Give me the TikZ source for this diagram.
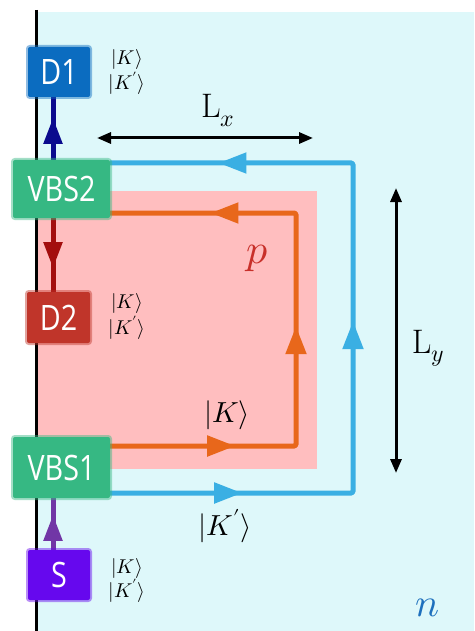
\documentclass[tikz,border=0pt]{standalone}
\usepackage{fontspec}
\usepackage{unicode-math}
\setmathfont{Latin Modern Math}
\newfontfamily\boxfont[FakeStretch=0.82]{Open Sans}
\usetikzlibrary{arrows.meta,decorations.markings}
\pgfdeclarelayer{bglayer}
\pgfdeclarelayer{linklayer}
\pgfsetlayers{bglayer,linklayer,main}
\definecolor{bgcyan}{HTML}{DEF8FA}
\definecolor{pinkbg}{HTML}{FFBEBF}
\definecolor{loopblue}{HTML}{3AAFE3}
\definecolor{looporange}{HTML}{E8671B}
\definecolor{dblue}{HTML}{0B6CC0}
\definecolor{vbsgreen}{HTML}{36B883}
\definecolor{dred}{HTML}{C0352A}
\definecolor{spurple}{HTML}{6608EE}
\definecolor{navyarr}{HTML}{0B0B8E}
\definecolor{redarr}{HTML}{A30E0E}
\definecolor{purparr}{HTML}{7136A6}
\definecolor{pred}{HTML}{C8302A}
\definecolor{nblue}{HTML}{1E70BD}
\tikzset{
  box/.style={rectangle, rounded corners=2pt, inner sep=0pt, text=white,
    fill=#1, preaction={draw=#1, line width=4pt, draw opacity=0.45},
    font=\boxfont\fontsize{35}{35}\selectfont},
  flow/.style={line width=5pt, line join=round, rounded corners=1.5pt},
  ftip/.tip={Triangle[length=28pt,width=20pt]},
  ctip/.tip={Triangle[length=26pt,width=18pt]},
  dtip/.tip={Triangle[length=14pt,width=11pt]},
  smallk/.style={anchor=base, inner sep=0pt, font=\fontsize{20}{24}\selectfont},
  bigk/.style={anchor=base, inner sep=0pt, font=\fontsize{29}{30}\selectfont},
  dimlab/.style={anchor=base, inner sep=0pt, font=\fontsize{34}{36}\selectfont},
  dimarrow/.style={line width=3pt, {dtip}-{dtip}}
}
\begin{document}
\begin{tikzpicture}[x=1pt,y=-1pt]
\useasboundingbox (0,0) rectangle (474,631);
\begin{pgfonlayer}{bglayer}
\fill[white] (0,0) rectangle (474,631);
\fill[bgcyan] (37,12) rectangle (474,631);
\fill[pinkbg] (37,191) rectangle (317,469);
\draw[line width=3pt] (36,10) -- (36,631);
\end{pgfonlayer}

% boxes
\node[box=dblue, minimum width=62pt, minimum height=50pt] (d1) at (59,72) {D1};
\node[box=vbsgreen, minimum width=97pt, minimum height=58pt] (vbs2) at (61.5,189) {VBS2};
\node[box=dred, minimum width=63pt, minimum height=51pt] (d2) at (58.5,317.5) {D2};
\node[box=vbsgreen, minimum width=97pt, minimum height=61pt] (vbs1) at (61.5,467.5) {VBS1};
\node[box=spurple, minimum width=62pt, minimum height=50pt] (s) at (59,575) {S};

\coordinate (ax) at (53,0);
\coordinate (bb) at (0,493);
\coordinate (bt) at (0,163);
\coordinate (ob) at (0,446);
\coordinate (ot) at (0,213);

\begin{pgfonlayer}{linklayer}
% loops
\draw[flow, loopblue, postaction={decorate}, decoration={markings,
    mark=at position 132pt with {\arrow{ftip}},
    mark=at position 414pt with {\arrow{ftip}},
    mark=at position 706pt with {\arrow{ftip}}}]
  (vbs1.east |- bb) -- (353,493) -- (353,163) -- (vbs2.east |- bt);
\draw[flow, looporange, postaction={decorate}, decoration={markings,
    mark=at position 125pt with {\arrow{ftip}},
    mark=at position 305pt with {\arrow{ftip}},
    mark=at position 503pt with {\arrow{ftip}}}]
  (vbs1.east |- ob) -- (296,446) -- (296,213) -- (vbs2.east |- ot);

% box connectors
\draw[line width=5pt, navyarr, postaction={decorate}, decoration={markings,
    mark=at position 42pt with {\arrow{ctip}}}]
  (vbs2.north -| ax) -- (d1.south -| ax);
\draw[line width=5pt, redarr, postaction={decorate}, decoration={markings,
    mark=at position 50pt with {\arrow{ctip}}}]
  (vbs2.south -| ax) -- (d2.north -| ax);
\draw[line width=5pt, purparr, postaction={decorate}, decoration={markings,
    mark=at position 35pt with {\arrow{ctip}}}]
  (s.north -| ax) -- (vbs1.south -| ax);
\end{pgfonlayer}

% dimension arrows
\coordinate (lxl) at (97,138);
\coordinate (lxr) at (313,138);
\coordinate (lyt) at (396,188);
\coordinate (lyb) at (396,473);
\draw[dimarrow] (lxl) -- (lxr);
\draw[dimarrow] (lyt) -- (lyb);
\node[dimlab] (lx) at (218,118) {$\mathrm{L}_x$};
\node[dimlab] (ly) at (428,353) {$\mathrm{L}_y$};

% state labels
\node[smallk] (k1a) at (127,65) {$|K\rangle$};
\node[smallk] (k1b) at (127,90) {$|K'\rangle$};
\node[smallk] (k2a) at (127,308) {$|K\rangle$};
\node[smallk] (k2b) at (127,334) {$|K'\rangle$};
\node[smallk] (k3a) at (127,573) {$|K\rangle$};
\node[smallk] (k3b) at (127,597) {$|K'\rangle$};
\node[bigk] (kin) at (227,422) {$|K\rangle$};
\node[bigk] (kout) at (225,535) {$|K'\rangle$};

\node[anchor=base, inner sep=0pt, text=pred, font=\fontsize{42}{42}\selectfont] (p) at (257,263) {$p$};
\node[anchor=base, inner sep=0pt, text=nblue, font=\fontsize{40}{40}\selectfont] (n) at (427,616) {$n$};
\end{tikzpicture}
\end{document}
